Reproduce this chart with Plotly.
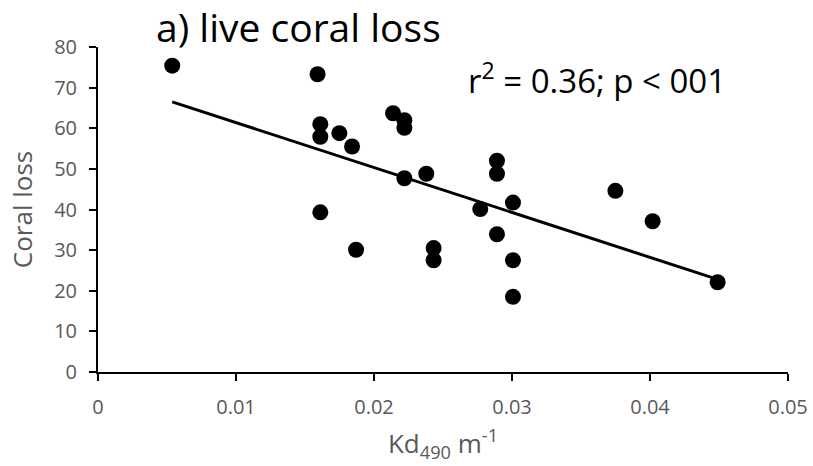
import plotly.graph_objects as go

kd490 = [0.00538, 0.01591, 0.01611, 0.01611, 0.01611, 0.01749, 0.01841, 0.01870,
         0.02138, 0.02220, 0.02220, 0.02220, 0.02379, 0.02432, 0.02432, 0.02770,
         0.02891, 0.02891, 0.02891, 0.03007, 0.03007, 0.03007, 0.03749, 0.04019, 0.04490]
coral_loss = [75.4, 73.3, 61.0, 57.9, 39.3, 58.8, 55.5, 30.1,
              63.7, 62.0, 60.1, 47.7, 48.8, 30.5, 27.5, 40.1,
              52.0, 48.8, 33.9, 41.7, 27.5, 18.5, 44.6, 37.1, 22.1]

# linear trendline (value at min and max of x)
trend_x = [min(kd490), max(kd490)]
trend_y = [66.5, 22.8]

x_ticks = [0, 0.01, 0.02, 0.03, 0.04, 0.05]
x_tick_labels = ["0", "0.01", "0.02", "0.03", "0.04", "0.05"]
y_ticks = [0, 10, 20, 30, 40, 50, 60, 70, 80]

FONT = "Open Sans"
GRAY = "#595959"

fig = go.Figure()
fig.add_trace(go.Scatter(x=trend_x, y=trend_y, mode="lines",
                         line=dict(color="black", width=3), showlegend=False,
                         hoverinfo="skip"))
fig.add_trace(go.Scatter(x=kd490, y=coral_loss, mode="markers",
                         marker=dict(color="black", size=16), showlegend=False))

fig.update_layout(
    width=813, height=466,
    margin=dict(l=98, r=25, t=47, b=94),
    plot_bgcolor="white", paper_bgcolor="white",
    font=dict(family=FONT, color=GRAY),
    xaxis=dict(range=[0, 0.05], tickvals=x_ticks, ticktext=x_tick_labels,
               automargin=False,
               showgrid=False, zeroline=False, showline=True, linecolor="black",
               linewidth=2, ticks="outside", ticklen=7, tickwidth=2, tickcolor="black",
               ticklabelstandoff=9,
               tickfont=dict(size=20, color=GRAY, family=FONT),
               title=dict(text="Kd<sub>490</sub> m<sup>-1</sup>",
                          font=dict(size=26, color=GRAY, family=FONT), standoff=16)),
    yaxis=dict(range=[0, 80], tickvals=y_ticks,
               automargin=False,
               showgrid=False, zeroline=False, showline=True, linecolor="black",
               linewidth=2, ticks="outside", ticklen=7, tickwidth=2, tickcolor="black",
               ticklabelstandoff=8,
               tickfont=dict(size=20, color=GRAY, family=FONT),
               title=dict(text="Coral loss",
                          font=dict(size=26, color=GRAY, family=FONT), standoff=14)),
    annotations=[
        dict(text="a) live coral loss", xref="paper", yref="paper",
             x=(154 - 98) / 690, y=1.0, xanchor="left", yanchor="bottom",
             yshift=-8, showarrow=False,
             font=dict(size=39, color="black", family=FONT)),
        dict(text="r<sup>2</sup> = 0.36; p < 001", xref="paper", yref="paper",
             x=(466 - 98) / 690, y=(372.5 - 95) / 325.8, xanchor="left", yanchor="bottom",
             yshift=-10, showarrow=False,
             font=dict(size=33, color="black", family=FONT)),
    ],
)

fig.write_html("out.html")
